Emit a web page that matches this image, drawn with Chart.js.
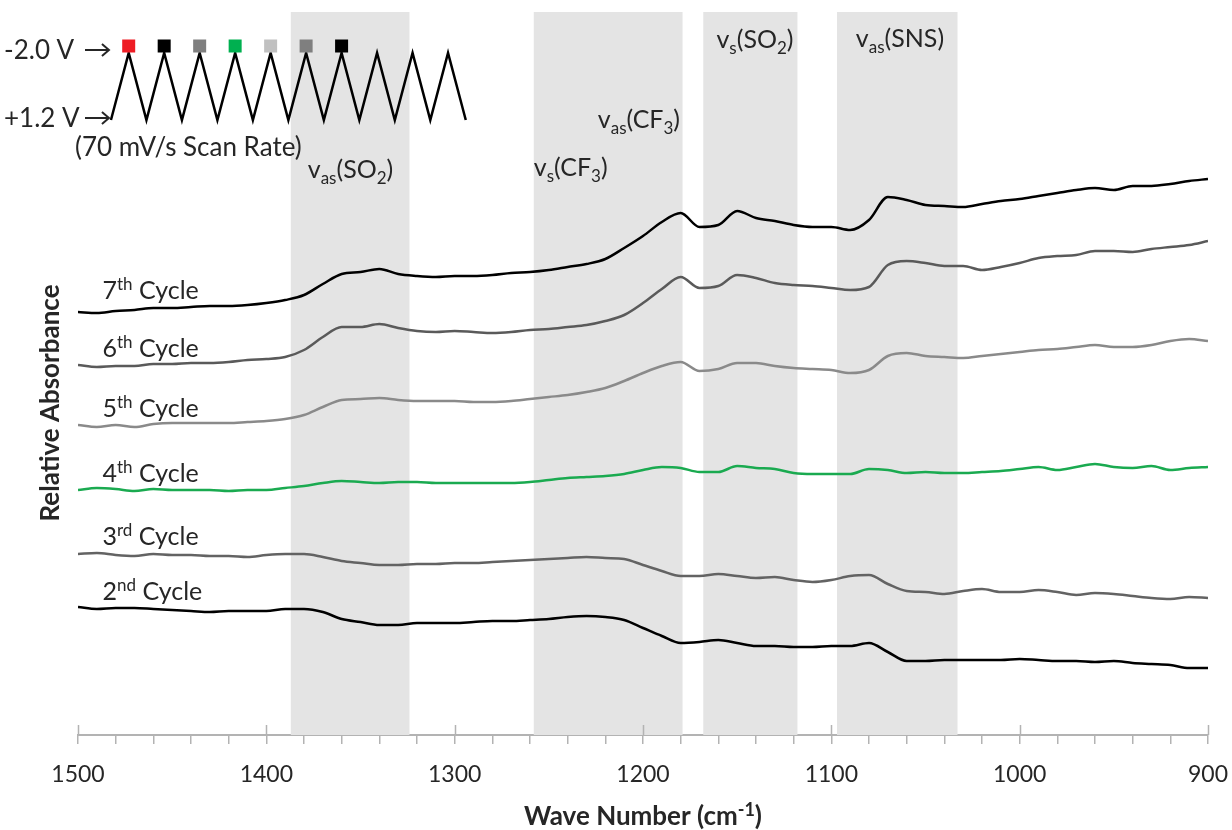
<!DOCTYPE html>
<html>
<head>
<meta charset="utf-8">
<script src="https://cdn.jsdelivr.net/npm/chart.js@4.4.1/dist/chart.umd.min.js"></script>
<style>
  html, body { margin: 0; padding: 0; background: #fff; }
  #wrap { width: 1232px; height: 830px; }
</style>
</head>
<body>
<div id="wrap"><canvas id="ftir"></canvas></div>
<script>
// FTIR spectra per CV cycle, relative absorbance (arbitrary units, offset per trace)

const waveNumbers = [1500,1490,1480,1470,1460,1450,1440,1430,1420,1410,1400,1390,1380,1370,1360,1350,1340,1330,1320,1310,1300,1290,1280,1270,1260,1250,1240,1230,1220,1210,1200,1190,1180,1170,1160,1150,1140,1130,1120,1110,1100,1090,1080,1070,1060,1050,1040,1030,1020,1010,1000,990,980,970,960,950,940,930,920,910,900];

const cycle7 = [423,422,424,425,427,427,428,429,429,430,432,435,440,451,461,463,466,461,459,458,459,459,460,462,463,465,468,471,476,487,499,513,522,508,510,524,517,514,510,508,508,505,515,538,535,530,529,528,531,534,536,539,542,545,547,545,549,549,551,554,556];
const cycle6 = [370,368,369,369,371,371,372,372,373,375,376,378,385,398,408,408,411,407,404,403,404,403,402,403,405,406,408,410,414,420,432,446,458,447,449,460,457,452,450,449,447,445,448,470,474,472,469,469,465,468,472,477,479,480,484,484,483,486,488,490,494];
const cycle5 = [310,308,310,308,311,312,312,312,312,313,314,316,320,328,335,336,337,335,334,334,334,333,333,334,336,338,340,343,347,354,362,369,373,364,366,372,372,369,367,366,365,362,365,379,382,379,378,377,379,381,383,385,386,388,390,388,388,390,394,396,394];
const cycle4 = [245,247,246,244,246,245,245,245,244,245,245,247,249,252,254,253,252,253,253,252,252,252,252,252,253,255,257,258,259,261,265,268,267,263,263,269,267,266,262,261,261,261,266,265,262,263,262,262,263,264,266,268,265,268,271,268,267,269,265,267,268];
const cycle3 = [181,182,180,179,181,180,180,179,179,178,180,181,181,178,174,172,170,170,171,171,172,172,173,174,175,176,177,178,177,176,170,164,159,159,161,159,157,158,155,153,155,159,160,151,144,143,141,144,146,143,143,145,143,140,142,141,139,137,136,138,137];
const cycle2 = [128,126,127,127,126,125,124,123,124,124,124,126,126,123,116,113,110,110,112,112,112,113,114,114,115,116,118,119,118,115,107,99,92,93,95,92,89,89,88,88,89,89,92,83,74,74,75,75,75,75,76,75,74,74,73,74,72,71,70,67,67];

// shaded vibrational bands [from, to] in cm-1
const bands = [[1387,1324],[1258,1179],[1168,1118],[1097,1033]];

// cycle label text + where it sits (wavenumber, absorbance baseline)
const cycleNames = [['7','th'],['6','th'],['5','th'],['4','th'],['3','rd'],['2','nd']];
const cycleLabelY = [436,378,318,253,190,135];
const cycleLabelX = 1487;

// band assignment labels: text parts, left wavenumber, baseline value
const bandLabels = [
  { parts: [['v'],['as','sub'],['(SO'],['2','sub'],[')']], x: 1378, y: 557 },
  { parts: [['v'],['s','sub'],['(CF'],['3','sub'],[')']],  x: 1258, y: 559 },
  { parts: [['v'],['as','sub'],['(CF'],['3','sub'],[')']], x: 1224, y: 607 },
  { parts: [['v'],['s','sub'],['(SO'],['2','sub'],[')']],  x: 1161, y: 687 },
  { parts: [['v'],['as','sub'],['(SNS)']],                 x: 1087, y: 688 }
];

// CV inset: potential limits and marker colours for cycles 1..7
const scanLimits = ['-2.0 V', '+1.2 V'];
const scanCycles = 10;
const markerColors = ['#ee1c24','#000000','#7f7f7f','#00b050','#c0c0c0','#7f7f7f','#000000'];

const FONT = "Lato, 'Open Sans', sans-serif";
const TEXT = '#262626';

function drawRich(ctx, parts, x, y, size, weight, align) {
  let total = 0;
  const pieces = parts.map(p => {
    const kind = p[1] || '';
    const s = kind ? Math.round(size * 0.68) : size;
    ctx.font = weight + ' ' + s + 'px ' + FONT;
    const w = ctx.measureText(p[0]).width;
    total += w;
    return { text: p[0], kind: kind, s: s, w: w };
  });
  let cx = align === 'center' ? x - total / 2 : x;
  pieces.forEach(p => {
    ctx.font = weight + ' ' + p.s + 'px ' + FONT;
    let dy = 0;
    if (p.kind === 'sub') dy = size * 0.25;
    if (p.kind === 'sup') dy = -size * 0.36;
    ctx.fillText(p.text, cx, y + dy);
    cx += p.w;
  });
}

const bandPlugin = {
  id: 'bands',
  beforeDatasetsDraw(chart) {
    const { ctx, chartArea, scales } = chart;
    ctx.save();
    ctx.fillStyle = '#e4e4e4';
    bands.forEach(b => {
      const x1 = scales.x.getPixelForValue(b[0]);
      const x2 = scales.x.getPixelForValue(b[1]);
      ctx.fillRect(x1, chartArea.top, x2 - x1, chartArea.bottom - chartArea.top);
    });
    ctx.restore();
  }
};

const annotationPlugin = {
  id: 'annotations',
  afterDraw(chart) {
    const { ctx, chartArea, scales } = chart;
    const xs = scales.x, ys = scales.y;
    ctx.save();
    ctx.fillStyle = TEXT;
    ctx.textBaseline = 'alphabetic';

    // major tick marks cross the axis line
    ctx.strokeStyle = '#b3b3b3';
    ctx.lineWidth = 1.5;
    xs.ticks.forEach(t => {
      if (t.value % 100 === 0) {
        const px = Math.round(xs.getPixelForValue(t.value)) + 0.5;
        ctx.beginPath();
        ctx.moveTo(px, chartArea.bottom - 10);
        ctx.lineTo(px, chartArea.bottom);
        ctx.stroke();
      }
    });

    // cycle labels
    cycleNames.forEach((n, i) => {
      drawRich(ctx, [[n[0]], [n[1], 'sup'], [' Cycle']],
        xs.getPixelForValue(cycleLabelX), ys.getPixelForValue(cycleLabelY[i]), 25, 'normal', 'left');
    });

    // band labels
    bandLabels.forEach(l => {
      drawRich(ctx, l.parts, xs.getPixelForValue(l.x), ys.getPixelForValue(l.y), 25, 'normal', 'left');
    });

    // CV inset: triangle wave from +1.2 V to -2.0 V
    const top = ys.getPixelForValue(682), bot = ys.getPixelForValue(615);
    const start = 1482.5, half = 9.42;
    ctx.strokeStyle = '#000';
    ctx.lineWidth = 2.5;
    ctx.lineJoin = 'miter';
    ctx.beginPath();
    for (let i = 0; i <= scanCycles * 2; i++) {
      const px = xs.getPixelForValue(start - i * half);
      const py = i % 2 ? top : bot;
      if (i === 0) ctx.moveTo(px, py); else ctx.lineTo(px, py);
    }
    ctx.stroke();
    markerColors.forEach((c, k) => {
      const px = xs.getPixelForValue(start - (2 * k + 1) * half);
      ctx.fillStyle = c;
      ctx.fillRect(px - 6.5, top - 13.5, 13, 13);
    });

    // potential labels with arrows
    ctx.fillStyle = TEXT;
    const arrowEnd = xs.getPixelForValue(start) - 2;
    [[scanLimits[0], top - 3], [scanLimits[1], bot - 2]].forEach(l => {
      ctx.font = '26px ' + FONT;
      ctx.textAlign = 'left';
      ctx.fillText(l[0], 4, l[1] + 9);
      ctx.strokeStyle = TEXT;
      ctx.lineWidth = 2;
      ctx.beginPath();
      ctx.moveTo(85, l[1]);
      ctx.lineTo(arrowEnd, l[1]);
      ctx.moveTo(arrowEnd - 7, l[1] - 6);
      ctx.lineTo(arrowEnd, l[1]);
      ctx.lineTo(arrowEnd - 7, l[1] + 6);
      ctx.stroke();
    });
    ctx.font = '26px ' + FONT;
    ctx.fillText('(70 mV/s Scan Rate)', 75, bot + 36);

    // axis titles
    drawRich(ctx, [['Wave Number (cm'], ['-1', 'sup'], [')']],
      (chartArea.left + chartArea.right) / 2, 825, 26, 'bold', 'center');
    ctx.translate(51, 403);
    ctx.rotate(-Math.PI / 2);
    ctx.textBaseline = 'middle';
    drawRich(ctx, [['Relative Absorbance']], 0, 0, 26, 'bold', 'center');
    ctx.restore();
  }
};

const series = [
  { data: cycle7, color: '#000000' },
  { data: cycle6, color: '#5a5a5a' },
  { data: cycle5, color: '#8a8a8a' },
  { data: cycle4, color: '#1aaa50' },
  { data: cycle3, color: '#636363' },
  { data: cycle2, color: '#000000' }
];

const datasets = series.map(s => ({
  data: waveNumbers.map((w, i) => ({ x: w, y: s.data[i] })),
  borderColor: s.color,
  borderWidth: 2.5,
  pointRadius: 0,
  cubicInterpolationMode: 'monotone',
  fill: false
}));

new Chart(document.getElementById('ftir'), {
  type: 'line',
  data: { datasets: datasets },
  options: {
    responsive: true,
    maintainAspectRatio: false,
    animation: false,
    devicePixelRatio: 1,
    layout: { padding: { left: 0, right: 24, top: 12, bottom: 0 } },
    plugins: { legend: { display: false }, tooltip: { enabled: false } },
    scales: {
      x: {
        type: 'linear',
        reverse: true,
        min: 900,
        max: 1500,
        afterFit: s => { s.height = 95; s.paddingLeft = 0; s.paddingRight = 0; },
        border: { display: true, color: '#b3b3b3', width: 2 },
        grid: { drawOnChartArea: false, drawTicks: true, tickLength: 9, color: '#b3b3b3', lineWidth: 1.5 },
        ticks: {
          stepSize: 20,
          autoSkip: false,
          maxRotation: 0,
          padding: 17,
          color: TEXT,
          font: { family: FONT, size: 23 },
          callback: v => (v % 100 === 0 ? String(v) : '')
        }
      },
      y: {
        min: 0,
        max: 723,
        afterFit: s => { s.width = 78; },
        border: { display: false },
        grid: { display: false },
        ticks: { display: false }
      }
    }
  },
  plugins: [bandPlugin, annotationPlugin]
});
</script>
</body>
</html>
